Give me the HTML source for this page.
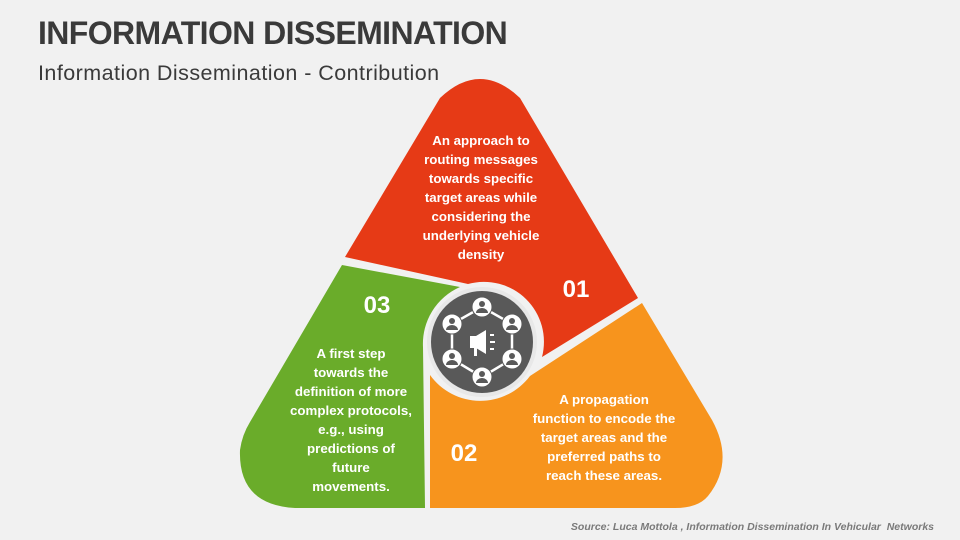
<!DOCTYPE html>
<html><head><meta charset="utf-8"><style>
body{margin:0;width:960px;height:540px;background:#f1f1f1;overflow:hidden;font-family:"Liberation Sans",sans-serif}
.t{position:absolute;left:38px;top:15px;font-size:32px;font-weight:bold;color:#3a3a3a;letter-spacing:-0.6px}
.s{position:absolute;left:38px;top:61px;font-size:21.5px;color:#3a3a3a;letter-spacing:0.45px}
.src{position:absolute;right:26px;top:521px;font-size:10.5px;font-style:italic;font-weight:bold;color:#7a7a7a}
</style></head><body>
<div class="t">INFORMATION DISSEMINATION</div>
<div class="s">Information Dissemination - Contribution</div>
<svg width="960" height="540" style="position:absolute;left:0;top:0">
<path d="M345,257 L440,98 Q480,60 520,98 L638,298 L542,357 A60,60 0 0 0 468,284 Z" fill="#E63A16"/>
<path d="M342,265 L460,287 A62,62 0 0 0 423,347 L425,508 L295,508 Q238,505 240,450 Q242,435 250,422 Z" fill="#6AAC2A"/>
<path d="M642,303 L712,420 Q735,462 708,496 Q698,508 675,508 L430,508 L430,375 A62,62 0 0 0 530,376 Z" fill="#F7941D"/>
<circle cx="482" cy="342" r="55" fill="#e8e8e8"/>
<circle cx="482" cy="342" r="51" fill="#595959"/>
<g stroke="#fff" stroke-width="2.5" fill="none">
<polygon points="482,307 512,324 512,359 482,377 452,359 452,324"/>
</g>
<g fill="#fff" stroke="#595959" stroke-width="1">
<circle cx="482" cy="307" r="10"/><circle cx="512" cy="324" r="10"/><circle cx="512" cy="359" r="10"/>
<circle cx="482" cy="377" r="10"/><circle cx="452" cy="359" r="10"/><circle cx="452" cy="324" r="10"/>
</g>
<g fill="#595959">
<circle cx="482" cy="304" r="3"/><path d="M476,313 a6,5 0 0 1 12,0z"/>
<circle cx="512" cy="321" r="3"/><path d="M506,330 a6,5 0 0 1 12,0z"/>
<circle cx="512" cy="356" r="3"/><path d="M506,365 a6,5 0 0 1 12,0z"/>
<circle cx="482" cy="374" r="3"/><path d="M476,383 a6,5 0 0 1 12,0z"/>
<circle cx="452" cy="356" r="3"/><path d="M446,365 a6,5 0 0 1 12,0z"/>
<circle cx="452" cy="321" r="3"/><path d="M446,330 a6,5 0 0 1 12,0z"/>
</g>
<g fill="#fff"><path d="M470,336 L476,336 L486,330 L486,354 L476,348 L470,348 Z"/><rect x="474" y="348" width="3" height="8"/>
<rect x="490" y="334" width="4" height="2"/><rect x="490" y="341" width="5" height="2"/><rect x="490" y="348" width="4" height="2"/></g>
<g fill="#fff" font-family="Liberation Sans,sans-serif" font-weight="bold" text-anchor="middle">
<text x="576" y="297" font-size="24">01</text>
<text x="377" y="313" font-size="24">03</text>
<text x="464" y="461" font-size="24">02</text>
<g font-size="13.3">
<text x="481" y="145">An approach to</text><text x="481" y="164">routing messages</text><text x="481" y="183">towards specific</text><text x="481" y="202">target areas while</text><text x="481" y="221">considering the</text><text x="481" y="240">underlying vehicle</text><text x="481" y="259">density</text>
<text x="351" y="358">A first step</text><text x="351" y="377">towards the</text><text x="351" y="396">definition of more</text><text x="351" y="415">complex protocols,</text><text x="351" y="434">e.g., using</text><text x="351" y="453">predictions of</text><text x="351" y="472">future</text><text x="351" y="491">movements.</text>
<text x="604" y="404">A propagation</text><text x="604" y="423">function to encode the</text><text x="604" y="442">target areas and the</text><text x="604" y="461">preferred paths to</text><text x="604" y="480">reach these areas.</text>
</g></g>
</svg>
<div class="src">Source: Luca Mottola , Information Dissemination In Vehicular &nbsp;Networks</div>
</body></html>
